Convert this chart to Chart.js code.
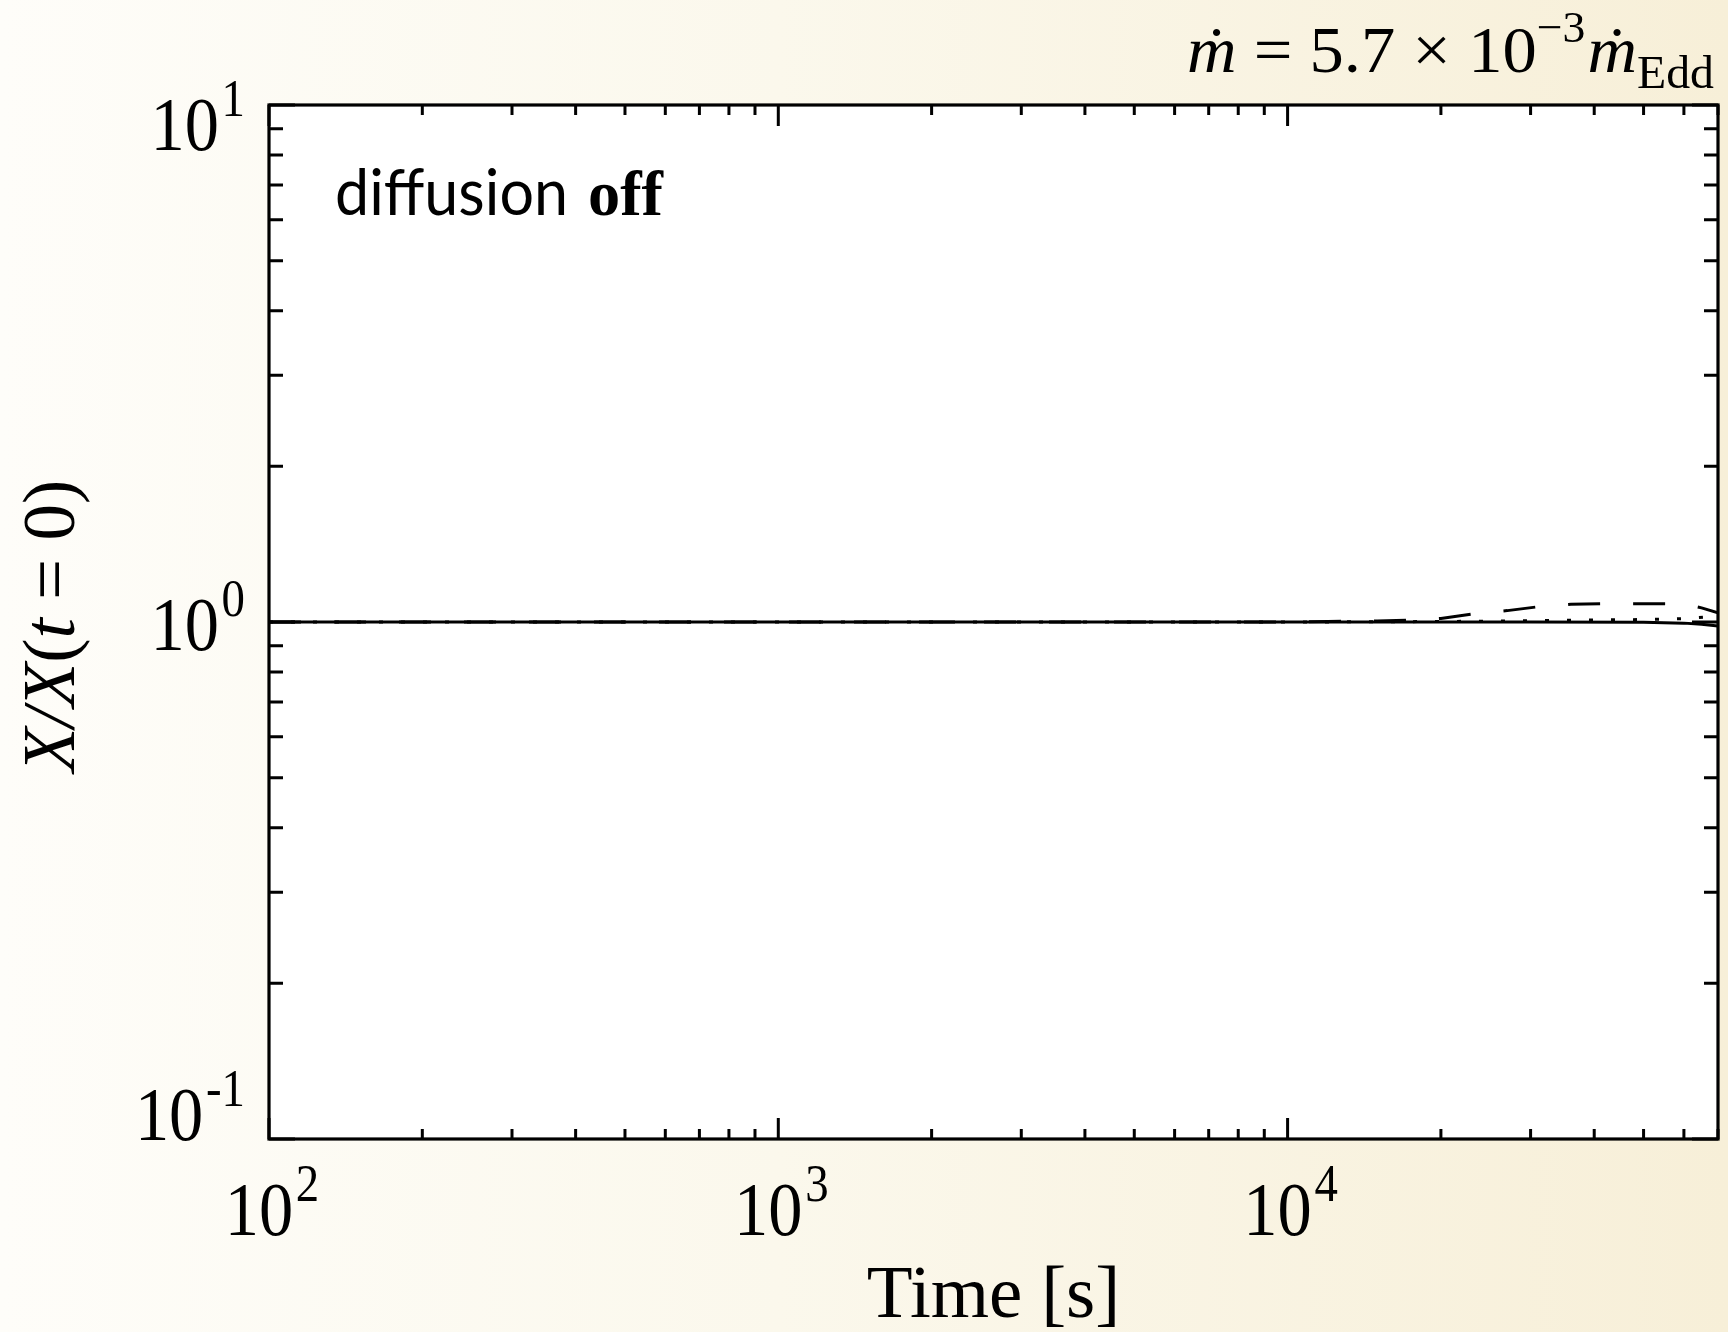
<!DOCTYPE html>
<html>
<head>
<meta charset="utf-8">
<script src="https://cdn.jsdelivr.net/npm/chart.js@4.4.1/dist/chart.umd.min.js"></script>
<style>
  html, body { margin: 0; padding: 0; }
  body {
    width: 1728px; height: 1332px; overflow: hidden;
    background: linear-gradient(to right, #fefdf9 0%, #fbf8ec 45%, #f7efd8 100%);
  }
  canvas { display: block; }
</style>
</head>
<body>
<canvas id="chart" width="1728" height="1332"></canvas>
<script>
// abundance ratio X/X(t=0) vs time [s], three species
const solidTime  = [100, 1000, 10000, 30000, 50000, 60000, 65000, 70000];
const solidX     = [1.0, 1.0, 1.0, 1.0, 0.999, 0.995, 0.99, 0.982];

const dashedTime = [100, 1000, 10000, 12000, 15000, 18000, 20000, 23000, 27000, 31000, 36000, 42000, 60000, 65000, 70000];
const dashedX    = [1.0, 1.0, 1.0, 1.002, 1.005, 1.009, 1.016, 1.036, 1.052, 1.07, 1.082, 1.085, 1.085, 1.065, 1.042];

const dottedTime = [100, 1000, 10000, 20000, 30000, 40000, 50000, 60000, 66000, 70000];
const dottedX    = [1.0, 1.0, 1.0, 1.002, 1.006, 1.009, 1.011, 1.015, 1.022, 1.042];

const xMajor = [100, 1000, 10000];
const xExp   = ['2', '3', '4'];
const yMajor = [0.1, 1, 10];
const yExp   = ['-1', '0', '1'];

const SERIF = '"Liberation Serif", "Times New Roman", serif';

function pts(t, v) { return t.map((x, i) => ({ x, y: v[i] })); }

function logTicks(min, max) {
  const out = [];
  for (let d = Math.floor(Math.log10(min)); d <= Math.ceil(Math.log10(max)); d++) {
    for (let m = 1; m < 10; m++) {
      const v = m * Math.pow(10, d);
      if (v >= min * 0.999 && v <= max * 1.001) out.push({ v, major: m === 1 });
    }
  }
  return out;
}

// pieces are [text, font, dy, gapBefore]
function runWidth(ctx, pieces) {
  let w = 0;
  pieces.forEach(p => { ctx.font = p[1]; w += ctx.measureText(p[0]).width + (p[3] || 0); });
  return w;
}
function drawRun(ctx, pieces, x, y, sx) {
  ctx.save();
  ctx.translate(x, y);
  ctx.scale(sx, 1);
  let cx = 0;
  pieces.forEach(p => {
    ctx.font = p[1];
    cx += p[3] || 0;
    ctx.fillText(p[0], cx, p[2] || 0);
    cx += ctx.measureText(p[0]).width;
  });
  ctx.restore();
}

const SX = 0.9;
function powPieces(exp) {
  return [['10', '76px ' + SERIF, 0], [exp, '52px ' + SERIF, -34, 3]];
}

const axesPlugin = {
  id: 'axesPlugin',
  beforeDraw(chart) {
    const { ctx, chartArea: a } = chart;
    ctx.save();
    ctx.fillStyle = '#ffffff';
    ctx.fillRect(a.left, a.top, a.right - a.left, a.bottom - a.top);
    ctx.restore();
  },
  afterDraw(chart) {
    const { ctx, chartArea: a } = chart;
    const xs = chart.scales.x, ys = chart.scales.y;
    ctx.save();
    ctx.strokeStyle = '#000';
    ctx.fillStyle = '#000';
    ctx.lineCap = 'butt';

    // ticks on all four sides
    ctx.lineWidth = 3;
    ctx.beginPath();
    logTicks(xs.min, xs.max).forEach(t => {
      const px = xs.getPixelForValue(t.v);
      const len = t.major ? 21 : 10;
      ctx.moveTo(px, a.bottom); ctx.lineTo(px, a.bottom - len);
      ctx.moveTo(px, a.top); ctx.lineTo(px, a.top + len);
    });
    logTicks(ys.min, ys.max).forEach(t => {
      const py = ys.getPixelForValue(t.v);
      const len = t.major ? 26 : 14;
      ctx.moveTo(a.left, py); ctx.lineTo(a.left + len, py);
      ctx.moveTo(a.right, py); ctx.lineTo(a.right - len, py);
    });
    ctx.stroke();

    // frame
    ctx.lineWidth = 3.2;
    ctx.strokeRect(a.left, a.top, a.right - a.left, a.bottom - a.top);

    ctx.textAlign = 'left';
    ctx.textBaseline = 'alphabetic';

    // x tick labels
    xMajor.forEach((v, i) => {
      const p = powPieces(xExp[i]);
      const w = runWidth(ctx, p) * SX;
      drawRun(ctx, p, xs.getPixelForValue(v) + 3 - w / 2, a.bottom + 96, SX);
    });

    // y tick labels (kept inside the axis span like the original)
    yMajor.forEach((v, i) => {
      const p = powPieces(yExp[i]);
      const w = runWidth(ctx, p) * SX;
      const py = ys.getPixelForValue(v);
      const mid = Math.min(Math.max(py + 2, a.top + 19), a.bottom - 25);
      drawRun(ctx, p, a.left - 24 - w, mid + 26, SX);
    });

    // x title
    const xt = [['Time [s]', '75px ' + SERIF, 0]];
    const xtw = runWidth(ctx, xt);
    drawRun(ctx, xt, (a.left + a.right) / 2 - xtw / 2, a.bottom + 178, 1);

    // y title
    const it = 'italic 73px ' + SERIF, rt = '73px ' + SERIF;
    const yt = [['X/X', it, 0], ['(', rt, 0], ['t', it, 0], [' = 0)', rt, 0]];
    const ytw = runWidth(ctx, yt);
    ctx.save();
    ctx.translate(a.left - 195, (a.top + a.bottom) / 2 + 4);
    ctx.rotate(-Math.PI / 2);
    drawRun(ctx, yt, -ytw / 2, 0, 1);
    ctx.restore();

    // top-right annotation
    const tt = [
      ['\u1E41', 'italic 66px ' + SERIF, 0],
      [' = 5.7 \u00D7 10', '66px ' + SERIF, 0],
      ['\u22123', '44px ' + SERIF, -30],
      ['\u1E41', 'italic 66px ' + SERIF, 0, 2],
      ['Edd', '46px ' + SERIF, 16]
    ];
    const ttw = runWidth(ctx, tt);
    const tsx = 527 / ttw;
    drawRun(ctx, tt, a.right - 4 - ttw * tsx, 72, tsx);

    // in-panel label
    const dfont = '64px Lato, "Noto Sans", sans-serif';
    ctx.font = dfont;
    const dlw = ctx.measureText('diffusion').width;
    drawRun(ctx, [['diffusion', dfont, 0]], 335, 215, 233 / dlw);
    ctx.font = 'bold 64px ' + SERIF;
    const ow = ctx.measureText('off').width;
    drawRun(ctx, [['off', 'bold 64px ' + SERIF, 0]], 588, 215, 75 / ow);

    ctx.restore();
  }
};

const lineBase = { borderColor: '#000', borderWidth: 3, pointRadius: 0, fill: false, tension: 0, borderCapStyle: 'butt' };

new Chart(document.getElementById('chart'), {
  type: 'line',
  data: {
    datasets: [
      Object.assign({ label: 'dotted', data: pts(dottedTime, dottedX), borderDash: [4, 18] }, lineBase),
      Object.assign({ label: 'dashed', data: pts(dashedTime, dashedX), borderDash: [32, 33] }, lineBase),
      Object.assign({ label: 'solid', data: pts(solidTime, solidX) }, lineBase)
    ]
  },
  options: {
    responsive: false,
    animation: false,
    devicePixelRatio: 1,
    parsing: false,
    layout: { padding: { left: 269, right: 10, top: 105, bottom: 193 } },
    plugins: { legend: { display: false }, tooltip: { enabled: false } },
    scales: {
      x: { type: 'logarithmic', min: 100, max: 70000, display: false },
      y: { type: 'logarithmic', min: 0.1, max: 10, display: false }
    }
  },
  plugins: [axesPlugin]
});
</script>
</body>
</html>
